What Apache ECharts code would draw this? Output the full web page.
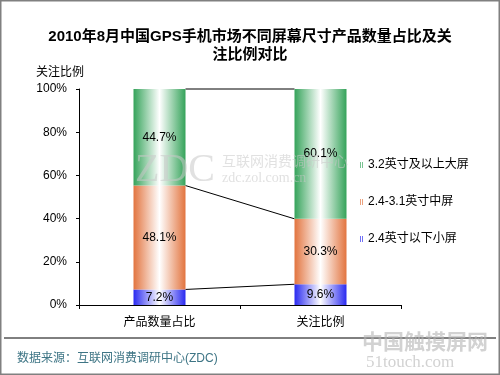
<!DOCTYPE html>
<html><head><meta charset="utf-8">
<script src="https://cdn.jsdelivr.net/npm/echarts@6/dist/echarts.min.js"></script>
<style>html,body{margin:0;padding:0;background:#fff}#c{width:500px;height:375px}</style>
</head><body><div id="c"></div>
<script>
var categories = ['产品数量占比', '关注比例'];
var seriesNames = ['2.4英寸以下小屏', '2.4-3.1英寸中屏', '3.2英寸及以上大屏'];
var smallScreen = [7.2, 9.6];
var midScreen = [48.1, 30.3];
var largeScreen = [44.7, 60.1];
var yTicks = [0, 20, 40, 60, 80, 100];

var FONT = '"Liberation Sans", Arial, "Noto Sans CJK SC", sans-serif';
var BAR_W = 52;
function grad(edge) {
  return {type: 'linear', x: 0, y: 0, x2: 1, y2: 0, colorStops: [
    {offset: 0, color: edge}, {offset: 0.5, color: '#ffffff'}, {offset: 1, color: edge}]};
}
var lvlSmall = [smallScreen[0], smallScreen[1]];
var lvlMid = [smallScreen[0] + midScreen[0], smallScreen[1] + midScreen[1]];
var lvlTop = [lvlMid[0] + largeScreen[0], lvlMid[1] + largeScreen[1]];
var connectors = [[0, lvlSmall[0], lvlSmall[1]], [0, lvlMid[0], lvlMid[1]], [0, lvlTop[0], lvlTop[1]]];

var chart = echarts.init(document.getElementById('c'));
var lbl = {show: true, position: 'inside', color: '#000', fontSize: 12, fontFamily: FONT,
  formatter: function (p) { return p.value.toFixed(1) + '%'; }};
chart.setOption({
  animation: false,
  title: {text: '2010年8月中国GPS手机市场不同屏幕尺寸产品数量占比及关\n注比例对比', left: 'center', top: 23,
    textStyle: {fontSize: 15, fontWeight: 'bold', color: '#000', fontFamily: FONT, lineHeight: 18}},
  legend: {data: [seriesNames[2], seriesNames[1], seriesNames[0]], orient: 'vertical', left: 355, top: 154,
    icon: 'rect', itemWidth: 3, itemHeight: 6, itemGap: 25,
    textStyle: {fontSize: 12, color: '#000', fontFamily: FONT}},
  grid: {left: 79, right: 99, top: 89, bottom: 70},
  xAxis: {type: 'category', data: categories,
    axisLine: {lineStyle: {color: '#000'}}, axisTick: {show: true, length: 4, lineStyle: {color: '#000'}},
    axisLabel: {color: '#000', fontSize: 12, fontFamily: FONT, margin: 12}},
  yAxis: {type: 'value', min: 0, max: 100, interval: 20, name: '关注比例', nameGap: 10,
    nameTextStyle: {color: '#000', fontSize: 12, fontFamily: FONT, align: 'left', padding: [0, 0, 0, -43]},
    axisLine: {show: true, lineStyle: {color: '#000'}}, axisTick: {show: true, length: 3, lineStyle: {color: '#000'}},
    splitLine: {show: false},
    axisLabel: {color: '#000', fontSize: 12, fontFamily: FONT, margin: 12, formatter: '{value}%'}},
  series: [
    {name: seriesNames[0], type: 'bar', stack: 's', barWidth: BAR_W, data: smallScreen,
      itemStyle: {color: grad('#2a2af0')}, label: lbl},
    {name: seriesNames[1], type: 'bar', stack: 's', barWidth: BAR_W, data: midScreen,
      itemStyle: {color: grad('#e2743f')}, label: lbl},
    {name: seriesNames[2], type: 'bar', stack: 's', barWidth: BAR_W, data: largeScreen,
      itemStyle: {color: grad('#35a35a')}, label: lbl},
    {type: 'custom', data: connectors, z: 1, silent: true,
      renderItem: function (params, api) {
        var p1 = api.coord([0, api.value(1)]);
        var p2 = api.coord([1, api.value(2)]);
        return {type: 'line', shape: {x1: p1[0] + BAR_W / 2, y1: p1[1], x2: p2[0] - BAR_W / 2, y2: p2[1]},
          style: {stroke: '#000', lineWidth: 1}};
      }}
  ],
  graphic: [
    {type: 'text', left: 135, top: 150, z: 100, silent: true, style: {text: 'ZDC', fill: 'rgba(200,200,200,0.55)', font: '40px "Liberation Serif", serif'}},
    {type: 'text', left: 222, top: 154, z: 100, silent: true, style: {text: '互联网消费调研中心', fill: 'rgba(200,200,200,0.55)', font: '14px "Noto Sans CJK SC"'}},
    {type: 'text', left: 222, top: 171, z: 100, silent: true, style: {text: 'zdc.zol.com.cn', fill: 'rgba(200,200,200,0.55)', font: '14px "Liberation Serif", serif'}},
    {type: 'text', left: 362, top: 331, z: 100, silent: true, style: {text: '中国触摸屏网', fill: 'rgba(180,180,180,0.6)', font: 'bold 21px "Noto Sans CJK SC"'}},
    {type: 'text', left: 366, top: 354, z: 100, silent: true, style: {text: '51touch.com', fill: 'rgba(180,180,180,0.6)', font: '17px "Liberation Serif", serif'}},
    {type: 'line', shape: {x1: 4, y1: 338, x2: 496, y2: 338}, style: {stroke: '#000', lineWidth: 1}},
    {type: 'text', left: 17, top: 353, style: {text: '数据来源：互联网消费调研中心(ZDC)', fill: '#3e7585', font: '12px "Liberation Sans", "Noto Sans CJK SC"'}},
    {type: 'rect', shape: {x: 0.5, y: 0.5, width: 499, height: 374}, style: {fill: 'none', stroke: '#808080', lineWidth: 2}}
  ]
});
</script></body></html>
